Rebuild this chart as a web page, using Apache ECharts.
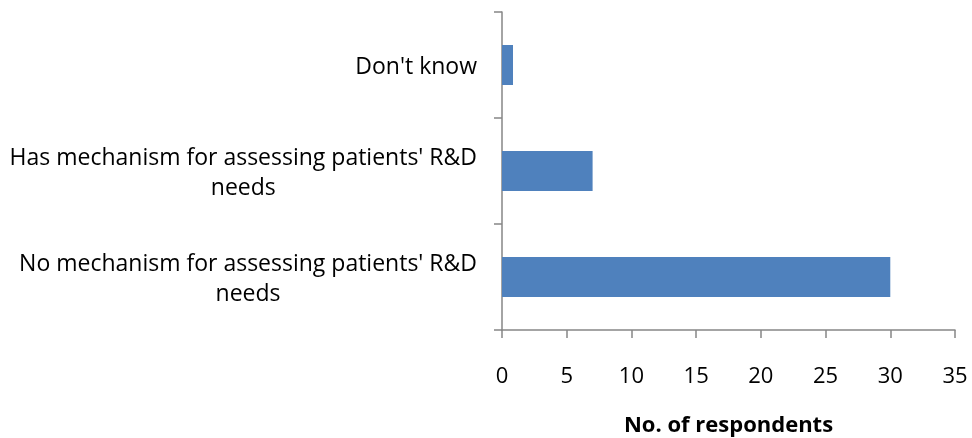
<!DOCTYPE html>
<html>
<head>
<meta charset="utf-8">
<script src="https://cdn.jsdelivr.net/npm/echarts@6/dist/echarts.min.js"></script>
<style>
  html, body { margin: 0; padding: 0; background: #ffffff; }
  #chart { width: 972px; height: 438px; }
</style>
</head>
<body>
<div id="chart"></div>
<script>
// Survey answers, listed bottom to top on the category axis
const categories = [
  "No mechanism for assessing patients' R&D\nneeds",
  "Has mechanism for assessing patients' R&D\nneeds",
  "Don't know"
];
const respondents = [30, 7, 0.85];
const xTicks = { min: 0, max: 35, step: 5 };
const xTitle = 'No. of respondents';

const FONT = '"Open Sans", "Liberation Sans", sans-serif';
const AXIS_GREY = '#868686';

// Each line of a category label is centred within its block
function centredLines(text) {
  return text.split('\n').map(function (line) { return '{c|' + line + '}'; }).join('\n');
}

const chart = echarts.init(document.getElementById('chart'), null, { renderer: 'canvas' });
chart.setOption({
  animation: false,
  backgroundColor: '#ffffff',
  grid: { left: 502, right: 17, top: 12, bottom: 108, containLabel: false, outerBoundsMode: 'none' },
  xAxis: {
    type: 'value',
    min: xTicks.min,
    max: xTicks.max,
    interval: xTicks.step,
    name: xTitle,
    nameLocation: 'middle',
    nameGap: 85,
    nameTextStyle: { fontFamily: FONT, fontWeight: 'bold', fontSize: 22, color: '#000000' },
    axisLine: { show: true, lineStyle: { color: AXIS_GREY, width: 1.5 } },
    axisTick: { show: true, length: 8, lineStyle: { color: AXIS_GREY, width: 1.5 } },
    axisLabel: { margin: 36, fontFamily: FONT, fontSize: 22, color: '#000000' },
    splitLine: { show: false }
  },
  yAxis: {
    type: 'category',
    data: categories,
    axisLine: { show: true, lineStyle: { color: AXIS_GREY, width: 1.5 } },
    axisTick: { show: true, length: 8, lineStyle: { color: AXIS_GREY, width: 1.5 } },
    axisLabel: {
      margin: 25,
      fontFamily: FONT,
      fontSize: 23,
      color: '#000000',
      lineHeight: 30,
      padding: [5, 0, 0, 0],
      formatter: centredLines,
      rich: { c: { align: 'center', fontFamily: FONT, fontSize: 23, color: '#000000', lineHeight: 30 } }
    }
  },
  series: [{
    type: 'bar',
    data: respondents,
    barWidth: 40,
    itemStyle: { color: '#4F81BD' }
  }]
});
</script>
</body>
</html>
